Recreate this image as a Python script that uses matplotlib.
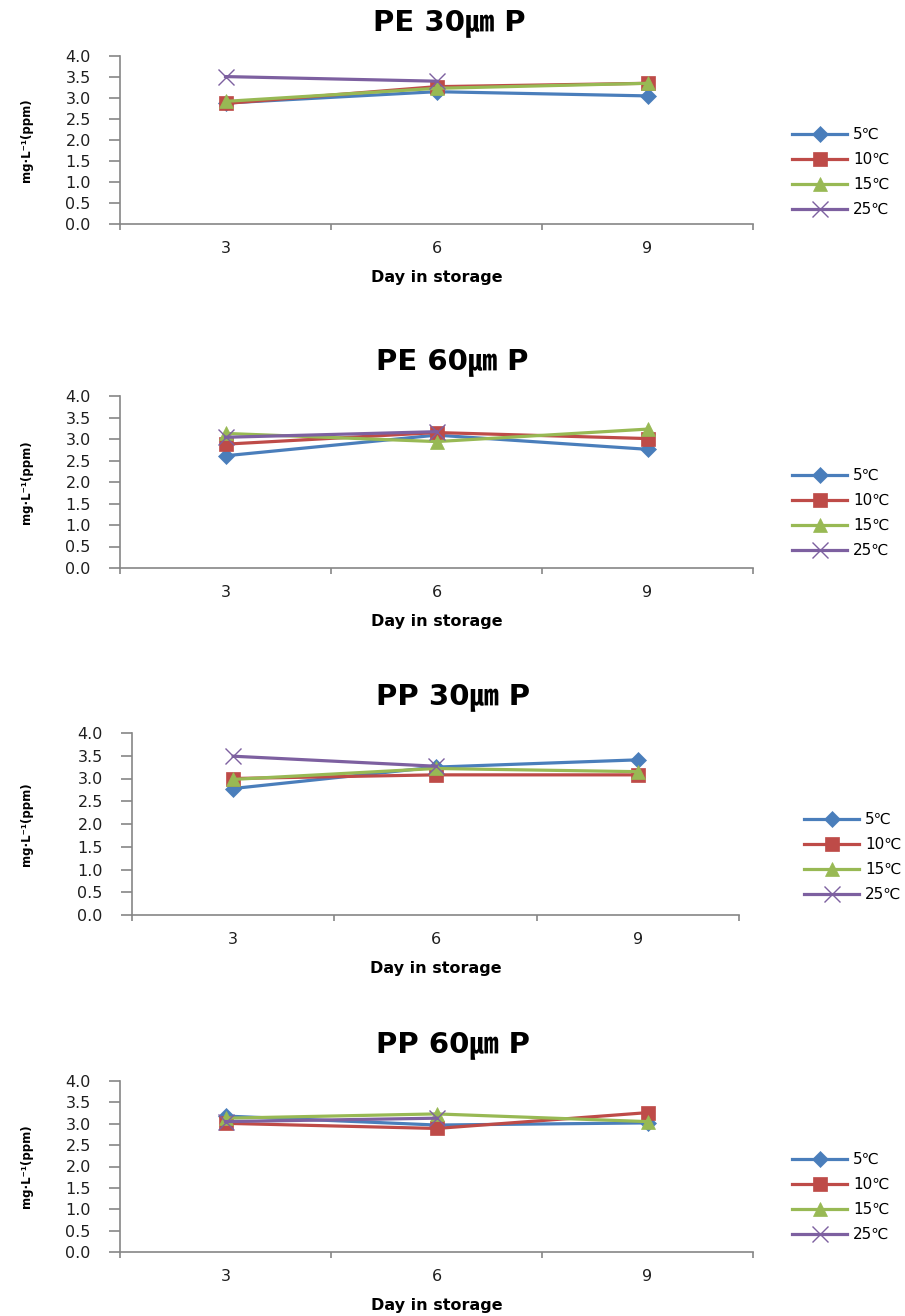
import numpy as np
import matplotlib
matplotlib.use('Agg')
import matplotlib.pyplot as plt

'''
Phosphorus content (mg/L) of samples stored in PE and PP film of two thicknesses,
at four storage temperatures, measured on day 3, 6 and 9.
'''

plt.rcParams['font.family'] = ['DejaVu Sans', 'Noto Sans CJK KR']

days = ['3', '6', '9']
tempLabels = ['5\u2103', '10\u2103', '15\u2103', '25\u2103']
panelTitles = ['PE 30\u339b P', 'PE 60\u339b P', 'PP 30\u339b P', 'PP 60\u339b P']

# Values per temperature (5, 10, 15, 25 C); the 25 C series has no day 9 point.
pe30 = [[2.88, 3.15, 3.05],
        [2.87, 3.27, 3.35],
        [2.92, 3.23, 3.35],
        [3.51, 3.40, np.nan]]
pe60 = [[2.61, 3.09, 2.76],
        [2.88, 3.15, 3.01],
        [3.13, 2.94, 3.23],
        [3.04, 3.17, np.nan]]
pp30 = [[2.78, 3.25, 3.41],
        [3.00, 3.08, 3.08],
        [2.98, 3.22, 3.15],
        [3.49, 3.27, np.nan]]
pp60 = [[3.18, 2.97, 3.02],
        [3.01, 2.89, 3.26],
        [3.13, 3.23, 3.05],
        [3.05, 3.13, np.nan]]

W, H = 905, 1316


def px(x, y):
    '''Convert pixel position (from top-left) to figure fraction.'''
    return x / W, 1 - y / H


def drawPanel(fig, rect, title, titlePos, data, legendY):
    '''
    Draws one panel. rect = (left, right, top, bottom) in pixels.
    '''
    left, right, top, bottom = rect
    ax = fig.add_axes([left / W, 1 - bottom / H, (right - left) / W, (bottom - top) / H])

    colours = ['#4a7ebb', '#be4b48', '#98b954', '#7d60a0']
    markers = ['D', 's', '^', 'x']
    sizes = [8, 10, 10, 11]
    xPos = np.arange(len(days))
    for i in range(len(tempLabels)):
        ax.plot(xPos, data[i], color=colours[i], marker=markers[i], markersize=sizes[i],
                linewidth=2.3, markeredgewidth=1.0 if markers[i] == 'x' else 0.5,
                markeredgecolor=colours[i], label=tempLabels[i])

    ax.set_xlim(-0.5, 2.5)
    ax.set_ylim(0, 4)
    ax.set_yticks(np.arange(0, 4.01, 0.5))
    ax.set_yticklabels(['{:.1f}'.format(v) for v in np.arange(0, 4.01, 0.5)])
    ax.set_xticks(xPos)
    ax.set_xticklabels(days)
    ax.set_xticks([-0.5, 0.5, 1.5, 2.5], minor=True)

    for side in ['top', 'right']:
        ax.spines[side].set_visible(False)
    for side in ['left', 'bottom']:
        ax.spines[side].set_color('#868686')
        ax.spines[side].set_linewidth(1.2)

    ax.tick_params(axis='y', length=8, width=1.2, color='#868686', pad=13,
                   labelsize=11.5, labelcolor='#1f1f1f')
    ax.tick_params(axis='x', which='major', length=0, pad=12, labelsize=11.5,
                   labelcolor='#1f1f1f')
    ax.tick_params(axis='x', which='minor', length=4, width=1.2, color='#868686')

    ax.set_xlabel('Day in storage', fontsize=11.5, weight='bold', labelpad=10)
    ax.set_ylabel('mg\u00b7L\u207b\u00b9(ppm)', fontsize=8.5, weight='bold')
    ax.yaxis.set_label_coords((33 - left) / (right - left), 0.5)

    fig.text(*px(*titlePos), title, fontsize=21, weight='bold', ha='center', va='center')

    ax.legend(loc='center left', bbox_to_anchor=px(left + 672, legendY),
              bbox_transform=fig.transFigure, frameon=False, fontsize=11,
              handlelength=3.6, handletextpad=0.4, labelspacing=0.65,
              borderpad=0, borderaxespad=0)
    return ax


def main():
    fig = plt.figure(figsize=(W / 100, H / 100), dpi=100)

    drawPanel(fig, (120, 753, 56, 224), panelTitles[0], (449, 23), pe30, 172)
    drawPanel(fig, (120, 753, 396, 568), panelTitles[1], (452, 362), pe60, 513)
    drawPanel(fig, (132, 739, 733, 915), panelTitles[2], (453, 697), pp30, 857)
    drawPanel(fig, (120, 753, 1081, 1252), panelTitles[3], (453, 1045), pp60, 1197)

    fig.savefig('out.png', dpi=100)


if __name__ == '__main__':
    main()
